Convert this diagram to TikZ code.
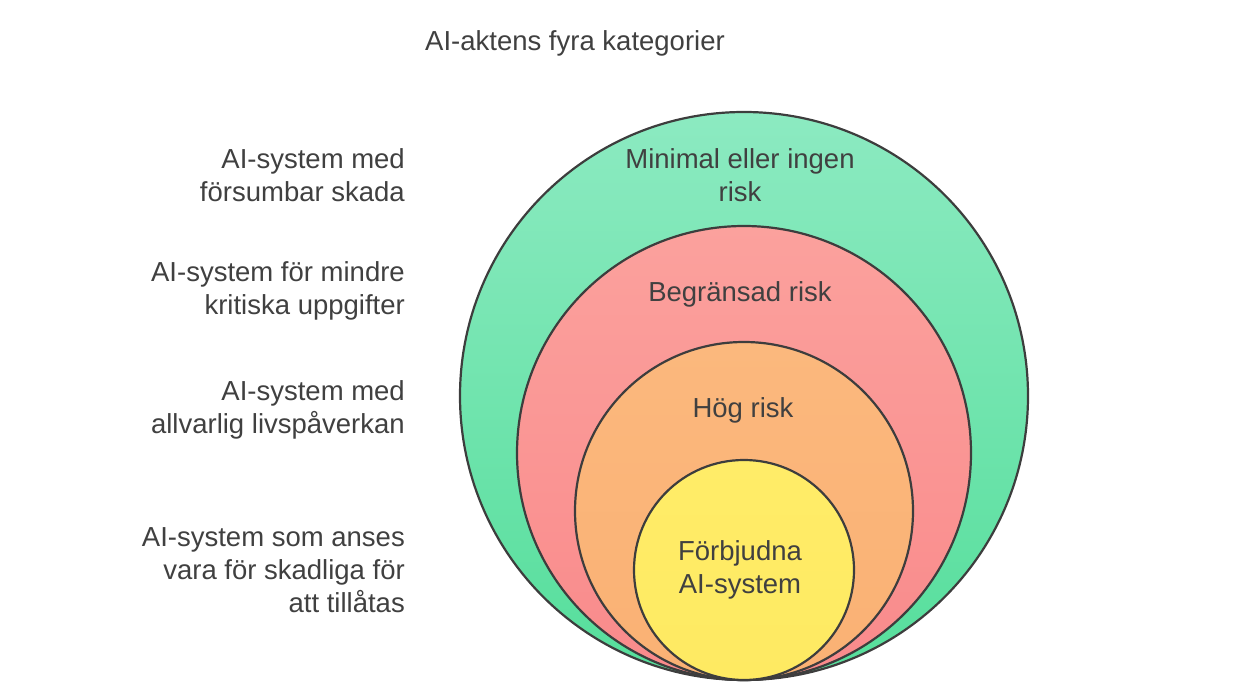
\documentclass[tikz,border=0pt]{standalone}
\usepackage{fontspec}
\setmainfont{Liberation Sans}
\definecolor{txt}{HTML}{404040}
\definecolor{stk}{HTML}{3D3D3D}
\definecolor{gtop}{HTML}{8CEAC1}
\definecolor{gbot}{HTML}{55DE9B}
\definecolor{rtop}{HTML}{FBA19D}
\definecolor{rbot}{HTML}{F98A8B}
\definecolor{otop}{HTML}{FBB87D}
\definecolor{obot}{HTML}{FAB174}
\definecolor{ytop}{HTML}{FFEC68}
\definecolor{ybot}{HTML}{FEEA62}
\tikzset{
  ring/.style={circle, draw=stk, line width=2.2pt, inner sep=0pt},
  lbl/.style={text=txt, font=\fontsize{27.5}{33}\selectfont, align=right, anchor=east, inner sep=0pt},
  clbl/.style={text=txt, font=\fontsize{27.5}{33}\selectfont, align=center, inner sep=0pt},
}
\begin{document}
\begin{tikzpicture}[x=1pt,y=-1pt]
\useasboundingbox (0,0) rectangle (1240,700);
\node[ring, minimum size=568pt, top color=gtop, bottom color=gbot] (c1) at (744,396) {};
\node[ring, minimum size=454pt, top color=rtop, bottom color=rbot] (c2) at (744,453) {};
\node[ring, minimum size=338pt, top color=otop, bottom color=obot] (c3) at (744,511) {};
\node[ring, minimum size=220pt, top color=ytop, bottom color=ybot] (c4) at (744,570) {};

\node[clbl] (t1) at (740,175) {Minimal eller ingen\\risk};
\node[clbl] (t2) at (740,294) {Begränsad risk};
\node[clbl] (t3) at (743,410) {Hög risk};
\node[clbl] (t4) at (740,570) {Förbjudna\\AI-system};

\node[text=txt, font=\fontsize{27.5}{33}\selectfont, inner sep=0pt] (title) at (575,43) {AI-aktens fyra kategorier};

\node[lbl] (l1) at (405,175) {AI-system med\\försumbar skada};
\node[lbl] (l2) at (405,291) {AI-system för mindre\\kritiska uppgifter};
\node[lbl] (l3) at (405,410) {AI-system med\\allvarlig livspåverkan};
\node[lbl] (l4) at (405,570) {AI-system som anses\\vara för skadliga för\\att tillåtas};
\end{tikzpicture}
\end{document}
